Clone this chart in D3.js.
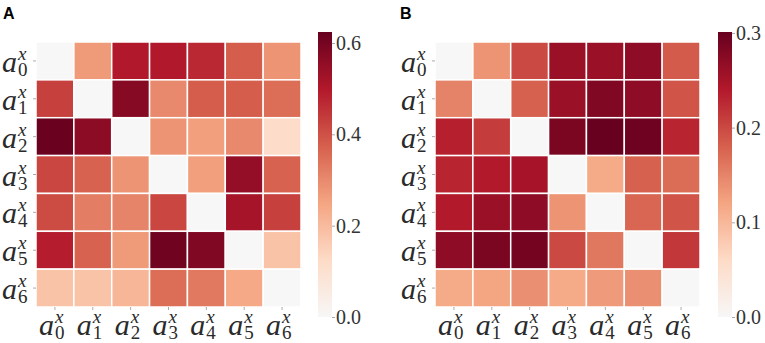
<!DOCTYPE html>
<html>
<head>
<meta charset="utf-8">
<script src="https://cdn.jsdelivr.net/npm/d3@7"></script>
<style>
  body { margin: 0; background: #fff; }
  svg { display: block; }
  .serif { font-family: "Liberation Serif", "DejaVu Serif", serif; }
</style>
</head>
<body>
<div id="chart"></div>
<script>
// categories (row / column index of a^x_i)
var labels = ["0", "1", "2", "3", "4", "5", "6"];

// panel A values (rows = y labels, cols = x labels)
var valuesA = [
  [0.00, 0.27, 0.50, 0.50, 0.47, 0.38, 0.28],
  [0.43, 0.00, 0.57, 0.30, 0.38, 0.38, 0.35],
  [0.62, 0.56, 0.00, 0.28, 0.26, 0.30, 0.12],
  [0.42, 0.37, 0.28, 0.00, 0.26, 0.55, 0.37],
  [0.41, 0.32, 0.31, 0.42, 0.00, 0.52, 0.43],
  [0.49, 0.37, 0.27, 0.61, 0.58, 0.00, 0.18],
  [0.18, 0.18, 0.21, 0.35, 0.33, 0.24, 0.00]
];

// panel B values
var valuesB = [
  [0.00, 0.135, 0.20, 0.26, 0.26, 0.27, 0.185],
  [0.15, 0.00, 0.18, 0.26, 0.28, 0.27, 0.19],
  [0.235, 0.21, 0.00, 0.285, 0.30, 0.295, 0.23],
  [0.23, 0.24, 0.25, 0.00, 0.115, 0.18, 0.17],
  [0.24, 0.26, 0.27, 0.135, 0.00, 0.175, 0.19],
  [0.27, 0.285, 0.29, 0.20, 0.16, 0.00, 0.215],
  [0.115, 0.12, 0.14, 0.115, 0.13, 0.14, 0.00]
];

// colorbar ranges and ticks
var vmaxA = 0.624, vmaxB = 0.301;
var ticksA = [0.0, 0.2, 0.4, 0.6];
var ticksB = [0.0, 0.1, 0.2, 0.3];

var W = 765, H = 343;
var svg = d3.select("#chart").append("svg")
  .attr("width", W)
  .attr("height", H);

// upper half of RdBu_r, linear between the brewer stops
var cmap = d3.scaleLinear()
  .domain([0, 0.2, 0.4, 0.6, 0.8, 1])
  .range(["#f7f7f7", "#fddbc7", "#f4a582", "#d6604d", "#b2182b", "#67001f"])
  .interpolate(d3.interpolateRgb)
  .clamp(true);

function color(v, vmax) {
  return cmap(v / vmax);
}

// a^x_i label; (x, y) = right edge of "a", baseline of "a"
function mathLabel(g, idx, x, y) {
  g.append("text")
    .attr("class", "serif")
    .attr("x", x).attr("y", y)
    .style("text-anchor", "end")
    .style("font-style", "italic")
    .style("font-size", "30px")
    .attr("fill", "#2a2a2a")
    .text("a");
  g.append("text")
    .attr("class", "serif")
    .attr("x", x + 1).attr("y", y - 12)
    .style("text-anchor", "start")
    .style("font-style", "italic")
    .style("font-size", "19px")
    .attr("fill", "#2a2a2a")
    .text("x");
  g.append("text")
    .attr("class", "serif")
    .attr("x", x + 1).attr("y", y + 4)
    .style("text-anchor", "start")
    .style("font-size", "19px")
    .attr("fill", "#2a2a2a")
    .text(idx);
}

function panel(opts) {
  var size = 265;
  var g = svg.append("g")
    .attr("transform", "translate(" + opts.left + "," + opts.top + ")");

  var x = d3.scaleBand().domain(labels).range([0, size]);
  var y = d3.scaleBand().domain(labels).range([0, size]);

  // panel letter
  svg.append("text")
    .attr("x", opts.letterX)
    .attr("y", 19)
    .style("font-family", "'Liberation Sans', Arial, sans-serif")
    .style("font-weight", "bold")
    .style("font-size", "16px")
    .attr("fill", "#000")
    .text(opts.letter);

  // cells
  var cells = [];
  opts.values.forEach(function (row, i) {
    row.forEach(function (v, j) {
      cells.push({ r: labels[i], c: labels[j], v: v });
    });
  });

  g.selectAll("rect.cell")
    .data(cells)
    .enter()
    .append("rect")
    .attr("class", "cell")
    .attr("x", function (d) { return x(d.c); })
    .attr("y", function (d) { return y(d.r); })
    .attr("width", x.bandwidth())
    .attr("height", y.bandwidth())
    .attr("fill", function (d) { return color(d.v, opts.vmax); })
    .attr("stroke", "#fff")
    .attr("stroke-width", 1.5);

  // axes with custom math labels
  var yAxis = g.append("g")
    .call(d3.axisLeft(y).tickSize(3).tickFormat(""));
  yAxis.select(".domain").remove();
  yAxis.selectAll(".tick text").remove();
  yAxis.selectAll(".tick line").attr("stroke", "#aaa");
  yAxis.selectAll(".tick").each(function (d) {
    mathLabel(d3.select(this), d, -19, 11);
  });

  var xAxis = g.append("g")
    .attr("transform", "translate(0," + size + ")")
    .call(d3.axisBottom(x).tickSize(3).tickFormat(""));
  xAxis.select(".domain").remove();
  xAxis.selectAll(".tick text").remove();
  xAxis.selectAll(".tick line").attr("stroke", "#aaa");
  xAxis.selectAll(".tick").each(function (d) {
    mathLabel(d3.select(this), d, -1, 28);
  });

  // colorbar
  var cbTop = 32, cbBottom = 317, cbW = 14;
  var cy = d3.scaleLinear().domain([0, opts.vmax]).range([cbBottom - opts.top, cbTop - opts.top]);
  var gradId = "grad" + opts.letter;
  var grad = svg.append("defs").append("linearGradient")
    .attr("id", gradId)
    .attr("x1", 0).attr("y1", 1).attr("x2", 0).attr("y2", 0);
  d3.range(0, 1.0001, 0.05).forEach(function (t) {
    grad.append("stop")
      .attr("offset", t)
      .attr("stop-color", color(t * opts.vmax, opts.vmax));
  });
  var cb = g.append("g").attr("transform", "translate(" + opts.cbX + ",0)");
  cb.append("rect")
    .attr("x", 0)
    .attr("y", cy(opts.vmax))
    .attr("width", cbW)
    .attr("height", cy(0) - cy(opts.vmax))
    .attr("fill", "url(#" + gradId + ")");
  var cbAxis = cb.append("g")
    .attr("transform", "translate(" + cbW + ",0)")
    .call(d3.axisRight(cy).tickValues(opts.ticks).tickSize(3).tickPadding(1)
      .tickFormat(d3.format(".1f")));
  cbAxis.select(".domain").remove();
  cbAxis.selectAll(".tick line").attr("stroke", "#aaa");
  cbAxis.selectAll(".tick text")
    .attr("class", "serif")
    .style("font-size", "20px")
    .attr("fill", "#333");
}

panel({ letter: "A", letterX: 3, left: 36, top: 42, values: valuesA, vmax: vmaxA, ticks: ticksA, cbX: 282 });
panel({ letter: "B", letterX: 400, left: 435, top: 42, values: valuesB, vmax: vmaxB, ticks: ticksB, cbX: 283 });
</script>
</body>
</html>
